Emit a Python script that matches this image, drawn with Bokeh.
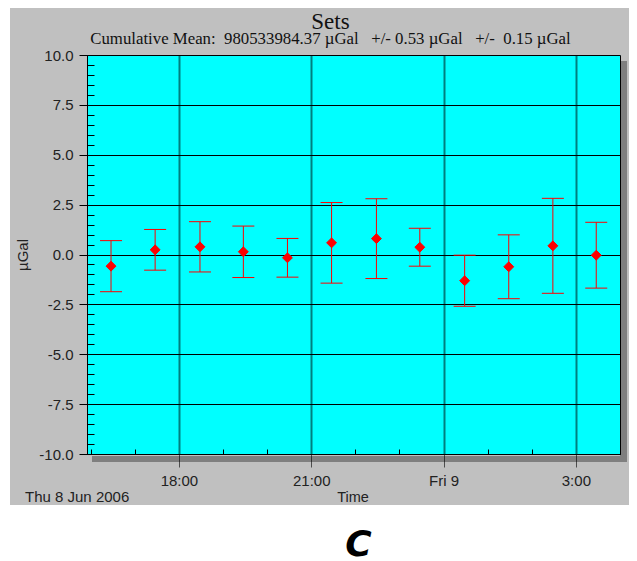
import numpy as np
import pandas as pd
from bokeh.plotting import figure
from bokeh.models import (ColumnDataSource, Whisker, TeeHead, FixedTicker, Label,
                          Range1d, PrintfTickFormatter, Div)
from bokeh.layouts import column
from bokeh.embed import file_html
from bokeh.resources import INLINE

# ---------------- data ----------------
set_times = ["2006-06-08 16:27", "2006-06-08 17:27", "2006-06-08 18:28", "2006-06-08 19:27",
             "2006-06-08 20:27", "2006-06-08 21:27", "2006-06-08 22:28", "2006-06-08 23:27",
             "2006-06-09 00:28", "2006-06-09 01:28", "2006-06-09 02:28", "2006-06-09 03:27"]
set_means = [-0.56, 0.26, 0.41, 0.16, -0.14, 0.61, 0.82, 0.39, -1.29, -0.59, 0.46, -0.01]
set_errors = [1.28, 1.02, 1.26, 1.29, 0.97, 2.02, 2.00, 0.95, 1.28, 1.60, 2.38, 1.65]

x_start = "2006-06-08 15:55"
x_end = "2006-06-09 04:00"
x_major_times = ["2006-06-08 18:00", "2006-06-08 21:00", "2006-06-09 00:00", "2006-06-09 03:00"]
x_major_labels = ["18:00", "21:00", "Fri 9", "3:00"]
x_minor_times = ["2006-06-08 16:00", "2006-06-08 17:00", "2006-06-08 19:00", "2006-06-08 20:00",
                 "2006-06-08 22:00", "2006-06-08 23:00", "2006-06-09 01:00", "2006-06-09 02:00",
                 "2006-06-09 04:00"]
y_major_ticks = [-10.0, -7.5, -5.0, -2.5, 0.0, 2.5, 5.0, 7.5, 10.0]
y_minor_step = 0.5
y_min, y_max = -10.0, 10.0

title_text = "Sets"
subtitle_text = ("Cumulative Mean:\u00a0 980533984.37 \u00b5Gal\u00a0\u00a0 +/- 0.53 \u00b5Gal"
                 "\u00a0\u00a0 +/-\u00a0 0.15 \u00b5Gal")
date_text = "Thu 8 Jun 2006"
x_label = "Time"
y_label = "\u00b5Gal"
panel_letter = "C"

# ---------------- helpers ----------------
ref = pd.Timestamp("2006-06-08 00:00")


def hours(ts):
    return [(pd.Timestamp(t) - ref) / pd.Timedelta(hours=1) for t in ts]


x0, x1 = hours([x_start])[0], hours([x_end])[0]
xs = hours(set_times)
means = np.array(set_means)
errs = np.array(set_errors)
src = ColumnDataSource(dict(x=xs, mean=means, upper=means + errs, lower=means - errs))

GRAY = "#c0c0c0"
SHADOW = "#7f7f7f"
CYAN = "#00ffff"
SANS = "Liberation Sans"
SERIF = "Liberation Serif"
TXT = "#222222"
W = 619
BL, BR = 77, 9   # left / right borders of the chart (frames are aligned in the column)


def strip(height, fill):
    f = figure(width=W, height=height, output_backend="svg", toolbar_location=None,
               x_range=Range1d(0, W - BL - BR), y_range=Range1d(0, height),
               min_border_left=BL, min_border_right=BR, min_border_top=0, min_border_bottom=0,
               x_axis_location=None, y_axis_location=None)
    f.title.visible = False
    f.grid.visible = False
    f.outline_line_color = None
    f.border_fill_alpha = 0
    f.styles = {"background": fill}
    f.background_fill_color = fill
    return f


# ---------------- title strip (frame spans x 87..620 on the page) ----------------
p_top = strip(40, GRAY)
p_top.add_layout(Label(x=243, y=15, x_units="screen", y_units="screen", text=title_text,
                       text_font=SERIF, text_font_size="23px", text_color="#111111",
                       text_align="center", text_baseline="bottom"))
p_top.add_layout(Label(x=243, y=1, x_units="screen", y_units="screen", text=subtitle_text,
                       text_font=SERIF, text_font_size="16.8px", text_color="#111111",
                       text_align="center", text_baseline="bottom"))

# ---------------- main chart ----------------
p = figure(width=W, height=443, output_backend="svg", toolbar_location=None,
           x_range=Range1d(x0, x1), y_range=Range1d(y_min, y_max),
           min_border_left=BL, min_border_right=BR, min_border_top=7, min_border_bottom=35)
p.title.visible = False
p.border_fill_alpha = 0
p.styles = {
    "background": (f"linear-gradient({SHADOW},{SHADOW}) 610px 13px / 7px 401px no-repeat, "
                   f"linear-gradient({SHADOW},{SHADOW}) 82px 408px / 535px 6px no-repeat, "
                   f"{GRAY}")
}
p.background_fill_color = CYAN
p.outline_line_color = "black"

xmaj = hours(x_major_times)
p.xaxis.ticker = FixedTicker(ticks=xmaj, minor_ticks=hours(x_minor_times))
p.xaxis.major_label_overrides = {float(t): lab for t, lab in zip(xmaj, x_major_labels)}
p.yaxis.ticker = FixedTicker(ticks=y_major_ticks,
                             minor_ticks=list(np.arange(y_min, y_max + 0.001, y_minor_step)))
p.yaxis.formatter = PrintfTickFormatter(format="%.1f")

for ax in (p.xaxis[0], p.yaxis[0]):
    ax.axis_line_color = "black"
    ax.major_tick_line_color = "black"
    ax.minor_tick_line_color = "black"
    ax.major_tick_in = 0
    ax.minor_tick_out = 0
    ax.major_label_text_font = SANS
    ax.major_label_text_font_size = "15px"
    ax.major_label_text_color = TXT
    ax.axis_label_text_font = SANS
    ax.axis_label_text_font_size = "15px"
    ax.axis_label_text_font_style = "normal"
    ax.axis_label_text_color = TXT

p.yaxis.major_tick_out = 8
p.yaxis.minor_tick_in = 7
p.yaxis.major_label_standoff = 6
p.yaxis.axis_label = y_label
p.yaxis.axis_label_standoff = 5

p.xaxis.major_tick_out = 13
p.xaxis.major_tick_line_alpha = 0.6
p.xaxis.minor_tick_in = 5
p.xaxis.major_label_standoff = 4

p.xgrid.ticker = p.xaxis.ticker
p.ygrid.ticker = p.yaxis.ticker
p.ygrid.grid_line_color = "black"
p.xgrid.grid_line_color = "black"
p.xgrid.grid_line_alpha = 0.5
p.xgrid.grid_line_width = 2

p.add_layout(Whisker(source=src, base="x", upper="upper", lower="lower",
                     line_color="red", line_width=1,
                     upper_head=TeeHead(size=22, line_color="red", line_width=1),
                     lower_head=TeeHead(size=22, line_color="red", line_width=1)))
p.scatter("x", "mean", source=src, marker="square", angle=np.pi / 4, size=7,
          fill_color="red", line_color="red")

# ---------------- bottom strip: date and axis title ----------------
bot_html = (
    f'<div style="position:relative;width:{W}px;height:14px;background:{GRAY};'
    f"font-family:'{SANS}';color:{TXT};line-height:14px;\">"
    f'<span style="position:absolute;left:15px;top:-1px;white-space:nowrap;font-size:15px;">'
    f'{date_text}</span>'
    f'<span style="position:absolute;left:343px;top:-1px;white-space:nowrap;font-size:14.5px;'
    f'transform:translateX(-50%);">{x_label}</span></div>'
)
p_bot = Div(text=bot_html, width=W, height=14, margin=0, styles={"background": GRAY})

# ---------------- panel letter ----------------
p_c = strip(55, "white")
p_c.add_layout(Label(x=271, y=-3, x_units="screen", y_units="screen", text=panel_letter,
                     text_font="DejaVu Sans", text_font_size="36px",
                     text_font_style="bold italic", text_color="black",
                     text_align="center", text_baseline="bottom"))

layout = column(p_top, p, p_bot, p_c)
layout.margin = (8, 0, 0, 10)

open("out.html", "w").write(file_html(layout, INLINE))
